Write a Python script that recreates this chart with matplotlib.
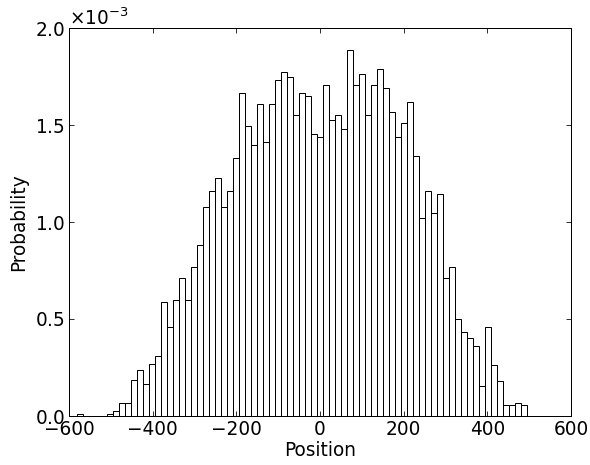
import numpy as np
import matplotlib
matplotlib.use("Agg")
import matplotlib.pyplot as plt
from matplotlib.ticker import ScalarFormatter

# Histogram bins (range of positions) and probability density per bin
bin_lo = -580.2
bin_hi = 495.5
density_e3 = [
    0.012, 0.0, 0.0, 0.0, 0.0, 0.012, 0.026, 0.069, 0.069, 0.184,
    0.237, 0.167, 0.266, 0.308, 0.586, 0.460, 0.600, 0.713, 0.600, 0.768,
    0.880, 1.076, 1.158, 1.228, 1.076, 1.160, 1.328, 1.663, 1.495, 1.397,
    1.607, 1.411, 1.607, 1.734, 1.775, 1.746, 1.550, 1.663, 1.648, 1.452,
    1.438, 1.705, 1.524, 1.550, 1.481, 1.885, 1.705, 1.761, 1.550, 1.705,
    1.787, 1.689, 1.565, 1.440, 1.509, 1.620, 1.342, 1.019, 1.158, 1.048,
    1.146, 0.713, 0.768, 0.502, 0.431, 0.404, 0.363, 0.153, 0.460, 0.264,
    0.182, 0.055, 0.055, 0.069, 0.055,
]
x_ticks = [-600, -400, -200, 0, 200, 400, 600]
y_ticks_e3 = [0.0, 0.5, 1.0, 1.5, 2.0]

density = np.array(density_e3) * 1e-3
edges = np.linspace(bin_lo, bin_hi, len(density) + 1)
centers = 0.5 * (edges[:-1] + edges[1:])

FS = 18.5
plt.rcParams['font.family'] = ['DejaVu Sans']
plt.rcParams['font.size'] = FS
plt.rcParams['mathtext.fontset'] = 'dejavusans'

fig = plt.figure(figsize=(590 / 72, 465 / 72), dpi=72)
ax = fig.add_axes([69 / 590, 1 - 416 / 465, (571 - 69) / 590, (416 - 28) / 465])

ax.hist(centers, bins=edges, weights=density, histtype='bar',
        facecolor='white', edgecolor='black', linewidth=1.0)

ax.set_xlim(-600, 600)
ax.set_ylim(0, 2.0e-3)
ax.set_xticks(x_ticks)
ax.set_yticks(np.array(y_ticks_e3) * 1e-3)

fmt = ScalarFormatter(useMathText=True)
fmt.set_powerlimits((-2, 2))
ax.yaxis.set_major_formatter(fmt)
ax.yaxis.get_offset_text().set_fontsize(FS)

ax.tick_params(direction='in', length=5, width=0.8, top=True, right=True,
               labelsize=FS, pad=4)
for s in ax.spines.values():
    s.set_linewidth(1.0)

ax.set_xlabel('Position', fontsize=FS, labelpad=1.5)
ax.set_ylabel('Probability', fontsize=FS, labelpad=7)

fig.savefig('out.png', dpi=72)
